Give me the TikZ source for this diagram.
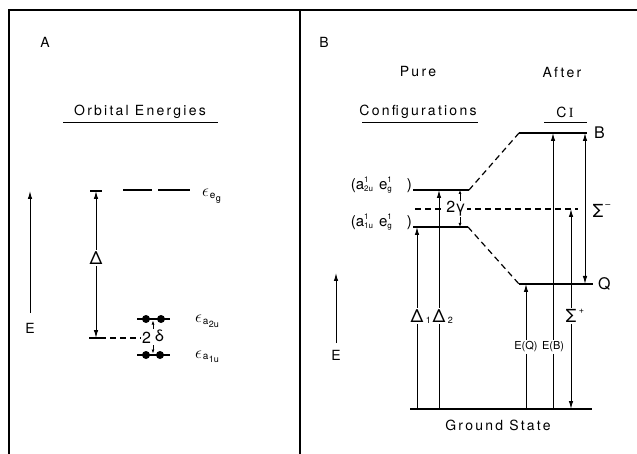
\documentclass[tikz,border=0pt]{standalone}
\usepackage{fontspec}
\setmainfont{TeX Gyre Heros}
\newfontfamily\lettering{TeX Gyre Heros}[LetterSpace=16]
\newfontfamily\seriffont{Liberation Serif}
\usetikzlibrary{arrows.meta}
\newcommand\epssub[2]{$\epsilon$\kern0.8pt\raisebox{-1.5pt}{\fontsize{10}{10}\selectfont #1\kern0.5pt\raisebox{-3pt}{\fontsize{9}{9}\selectfont #2}}}
\newcommand\conf[1]{(a\rlap{\raisebox{7pt}{\fontsize{8}{8}\selectfont 1}}\raisebox{-1.5pt}{\fontsize{8}{8}\selectfont #1}\kern6pt e\rlap{\raisebox{7pt}{\fontsize{8}{8}\selectfont 1}}\raisebox{-1.5pt}{\fontsize{8}{8}\selectfont g}\kern15pt)}
\begin{document}
\begin{tikzpicture}[x=1pt,y=-1pt,
  frame/.style={line width=1.5pt},
  lvl/.style={line width=1.8pt},
  biglvl/.style={line width=2.4pt},
  thinline/.style={line width=1pt},
  arr/.style={line width=1pt,-{Latex[length=8pt,width=4.5pt]}},
  darr/.style={line width=1pt,{Latex[length=8pt,width=4.5pt]}-{Latex[length=8pt,width=4.5pt]}},
  tinyarr/.style={line width=0.8pt,-{Latex[length=4pt,width=3pt]}},
  dashline/.style={line width=1.2pt,dash pattern=on 6pt off 4pt},
  word/.style={inner sep=0pt,font=\lettering\fontsize{14}{16}\selectfont},
  glyph/.style={inner sep=1.5pt,font=\fontsize{16}{18}\selectfont},
  sublbl/.style={inner sep=0pt,font=\fontsize{9}{10}\selectfont},
  elbl/.style={inner sep=1.5pt,font=\fontsize{11}{13}\selectfont},
  epsl/.style={anchor=base west,inner sep=0pt,font=\fontsize{16}{18}\selectfont},
]
\useasboundingbox (0,0) rectangle (637,454);
% frame
\draw[frame] (8,10) -- (637,10);
\draw[frame] (9,10) -- (9,454);
\draw[frame] (300,10) -- (300,454);

% ---------------- Panel A ----------------
\node[word] (lblA) at (45,42) {A};
\node[word] (orb) at (140,112) {Orbital Energies};
\draw[thinline] (63,123) -- (218,123);

\node[word] (EA) at (30,328) {E};
\coordinate (EAb) at (30,313);
\coordinate (EAt) at (30,191);
\draw[arr] (EAb) -- (EAt);

\node[glyph,font=\fontsize{18}{20}\selectfont] (DA) at (96,258) {Δ};
\coordinate (DAt) at (96,191);
\coordinate (DAb) at (96,338);
\draw[arr] (DA.north) -- (DAt);
\draw[arr] (DA.south) -- (DAb);
\draw[line width=1.4pt] (90,191) -- (102,191);
\draw[line width=1.4pt] (89,338) -- (100,338);
\draw[dashline] (100,338) -- (141,338);

% e_g levels
\draw[lvl] (123,190) -- (152,190);
\draw[lvl] (158,190) -- (190,190);
\node[epsl] (epsEg) at (202,197) {\epssub{e}{g}};

% a2u level
\draw[lvl] (137,319) -- (170,319);
\fill (146,319) circle (4pt);
\fill (161,319) circle (4pt);
\node[epsl] (epsA2) at (195,323) {\epssub{a}{2u}};
% a1u level
\draw[lvl] (137,355) -- (170,355);
\fill (146,355) circle (4pt);
\fill (160,355) circle (4pt);
\node[epsl] (epsA1) at (195,358) {\epssub{a}{1u}};

% 2 delta
\node[glyph,inner sep=0pt] (two) at (146.5,338) {2};
\node[glyph,inner sep=0pt] (del) at (159.5,336) {δ};
\coordinate (dTs) at (153,329);
\coordinate (dTe) at (153,320.5);
\coordinate (dBs) at (153,345);
\coordinate (dBe) at (153,353.5);
\draw[tinyarr] (dTs) -- (dTe);
\draw[tinyarr] (dBs) -- (dBe);

% ---------------- Panel B ----------------
\node[word] (lblB) at (324,42) {B};
\node[word] (pure) at (418,72) {Pure};
\node[word] (confs) at (418,112) {Configurations};
\draw[thinline] (362,123) -- (478,123);
\node[word] (after) at (562,72) {After};
\node[word] (ci) at (565,112) {C\,{\seriffont I}};
\draw[thinline] (544,123) -- (587,123);

% levels
\coordinate (Bl) at (519,133); \coordinate (Br) at (587,133);
\coordinate (Ql) at (519,284); \coordinate (Qr) at (593,284);
\coordinate (P2l) at (413,190); \coordinate (P2r) at (469,190);
\coordinate (P1l) at (413,227); \coordinate (P1r) at (468,227);
\coordinate (Gl) at (410,409); \coordinate (Gr) at (592,409);
\draw[biglvl] (Bl) -- (Br);
\draw[biglvl] (Ql) -- (Qr);
\draw[lvl] (P2l) -- (P2r);
\draw[lvl] (P1l) -- (P1r);
\draw[lvl] (Gl) -- (Gr);
\draw[dashline] (P2r) -- (Bl);
\draw[dashline] (P1r) -- (Ql);

\node[glyph,anchor=west,inner sep=0pt] (labB) at ([xshift=7pt]Br) {B};
\node[glyph,anchor=west,inner sep=0pt] (labQ) at ([xshift=5pt]Qr) {Q};
\node[word] (gs) at (498,425) {Ground State};

\node[anchor=base east,inner sep=0pt,font=\fontsize{15}{17}\selectfont] (c2) at ([xshift=-1pt]P2l) {\conf{2u}};
\node[anchor=base east,inner sep=0pt,font=\fontsize{15}{17}\selectfont] (c1) at ([xshift=-1pt]P1l) {\conf{1u}};

% middle dashed line and 2 gamma
\coordinate (Ml) at (415,209); \coordinate (Mr) at (578,209);
\draw[dashline] (Ml) -- (Mr);
\node[glyph,fill=white,inner sep=1pt] (gam) at (456,209) {2γ};
\coordinate (gx) at (460,209);
\draw[tinyarr] ([yshift=8pt]gx) -- (gx |- P2l);
\draw[tinyarr] ([yshift=-8pt]gx) -- (gx |- P1l);

% Delta_1, Delta_2
\node[glyph,font=\fontsize{18}{20}\selectfont] (d1) at (417,316) {Δ};
\node[sublbl,anchor=west] at ([xshift=0.5pt,yshift=-4pt]d1.east) {1};
\draw[arr] (d1.north) -- (d1 |- P1l);
\draw[line width=1pt] (d1.south) -- (d1 |- Gl);
\node[glyph,font=\fontsize{18}{20}\selectfont] (d2) at (439,316) {Δ};
\node[sublbl,anchor=west] at ([xshift=0.5pt,yshift=-4pt]d2.east) {2};
\draw[arr] (d2.north) -- (d2 |- P2l);
\draw[line width=1pt] (d2.south) -- (d2 |- Gl);

% E(Q), E(B)
\node[elbl] (eq) at (526,347) {E(Q)};
\draw[arr] (eq.north) -- (eq |- Ql);
\draw[line width=1pt] (eq.south) -- (eq |- Gl);
\node[elbl] (eb) at (553,347) {E(B)};
\draw[arr] (eb.north) -- (eb |- Bl);
\draw[line width=1pt] (eb.south) -- (eb |- Gl);

% Sigma+
\node[glyph,font=\fontsize{18}{20}\selectfont] (sp) at (571,316) {Σ};
\node[sublbl,anchor=west] at ([xshift=0.5pt,yshift=5pt]sp.east) {+};
\draw[arr] (sp.north) -- (sp |- Mr);
\draw[arr] (sp.south) -- (sp |- Gl);

% Sigma-
\coordinate (smx) at (585,209);
\draw[darr] (smx |- Bl) -- (smx |- Ql);
\node[glyph,inner sep=0pt,font=\fontsize{18}{20}\selectfont] (sm) at (598,211) {Σ};
\node[sublbl,anchor=west] at ([xshift=1.5pt,yshift=5pt]sm.east) {--};

% E arrow panel B
\node[word] (EB) at (336,355) {E};
\coordinate (EBb) at (336,343);
\coordinate (EBt) at (336,273);
\draw[arr] (EBb) -- (EBt);
\end{tikzpicture}
\end{document}
